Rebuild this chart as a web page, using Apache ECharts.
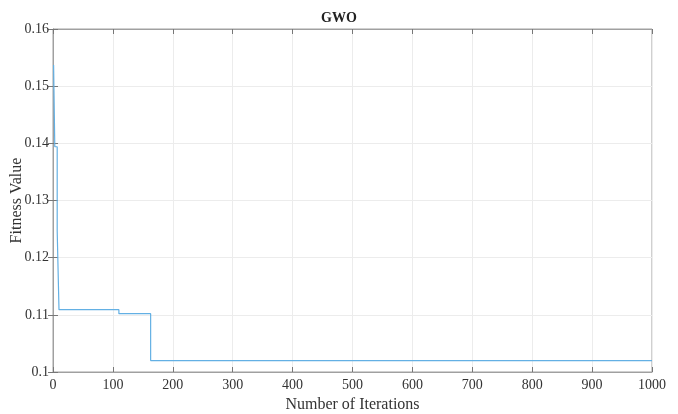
<!DOCTYPE html>
<html>
<head>
<meta charset="utf-8">
<script src="https://cdn.jsdelivr.net/npm/echarts@6/dist/echarts.min.js"></script>
<style>
  html, body { margin: 0; padding: 0; background: #fff; }
  #main { width: 678px; height: 414px; }
</style>
</head>
<body>
<div id="main"></div>
<script>
  // breakpoints of the convergence curve (best fitness holds until the next point)
  const iterations = [1, 3, 7, 10, 110, 163, 1000];
  const fitness = [0.1537, 0.1394, 0.1247, 0.1109, 0.1102, 0.1020, 0.1020];
  const xTicks = [0, 100, 200, 300, 400, 500, 600, 700, 800, 900, 1000];
  const yTicks = [0.1, 0.11, 0.12, 0.13, 0.14, 0.15, 0.16];

  const font = 'Liberation Serif';
  const chart = echarts.init(document.getElementById('main'));

  chart.setOption({
    animation: false,
    title: {
      text: 'GWO',
      left: 'center',
      top: 6,
      textStyle: { fontFamily: font, fontSize: 14, fontWeight: 'bold', color: '#222' }
    },
    grid: {
      left: 53, right: 26, top: 29, bottom: 42,
      containLabel: false, outerBoundsMode: 'none',
      show: true, borderColor: '#a0a0a0', borderWidth: 1
    },
    xAxis: [{
      type: 'value',
      min: xTicks[0], max: xTicks[xTicks.length - 1], interval: 100,
      name: 'Number of Iterations',
      nameLocation: 'middle', nameGap: 25, nameMoveOverlap: false,
      nameTextStyle: { fontFamily: font, fontSize: 16, color: '#333' },
      axisLine: { lineStyle: { color: '#a0a0a0' } },
      axisTick: { inside: true, length: 5, lineStyle: { color: '#777' } },
      axisLabel: { fontFamily: font, fontSize: 14, color: '#333', margin: 6, formatter: v => String(v) },
      splitLine: { lineStyle: { color: '#ececec' } }
    }, {
      type: 'value', position: 'top',
      min: xTicks[0], max: xTicks[xTicks.length - 1], interval: 100,
      axisLine: { lineStyle: { color: '#a0a0a0' } },
      axisTick: { inside: true, length: 5, lineStyle: { color: '#777' } },
      axisLabel: { show: false },
      splitLine: { show: false }
    }],
    yAxis: [{
      type: 'value',
      min: yTicks[0], max: yTicks[yTicks.length - 1], interval: 0.01,
      name: 'Fitness Value',
      nameLocation: 'middle', nameGap: 28, nameMoveOverlap: false,
      nameTextStyle: { fontFamily: font, fontSize: 16, color: '#333' },
      axisLine: { show: true, lineStyle: { color: '#a0a0a0' } },
      axisTick: { show: true, inside: true, length: 5, lineStyle: { color: '#777' } },
      axisLabel: {
        fontFamily: font, fontSize: 14, color: '#333', margin: 4,
        formatter: v => String(parseFloat(v.toFixed(2)))
      },
      splitLine: { lineStyle: { color: '#ececec' } }
    }, {
      type: 'value', position: 'right',
      min: yTicks[0], max: yTicks[yTicks.length - 1], interval: 0.01,
      axisLine: { show: true, lineStyle: { color: '#a0a0a0' } },
      axisTick: { show: true, inside: true, length: 5, lineStyle: { color: '#777' } },
      axisLabel: { show: false },
      splitLine: { show: false }
    }],
    series: [{
      type: 'line',
      step: 'end',
      showSymbol: false,
      data: iterations.map((it, i) => [it, fitness[i]]),
      lineStyle: { color: '#63b0e4', width: 1.2 }
    }]
  });
</script>
</body>
</html>
